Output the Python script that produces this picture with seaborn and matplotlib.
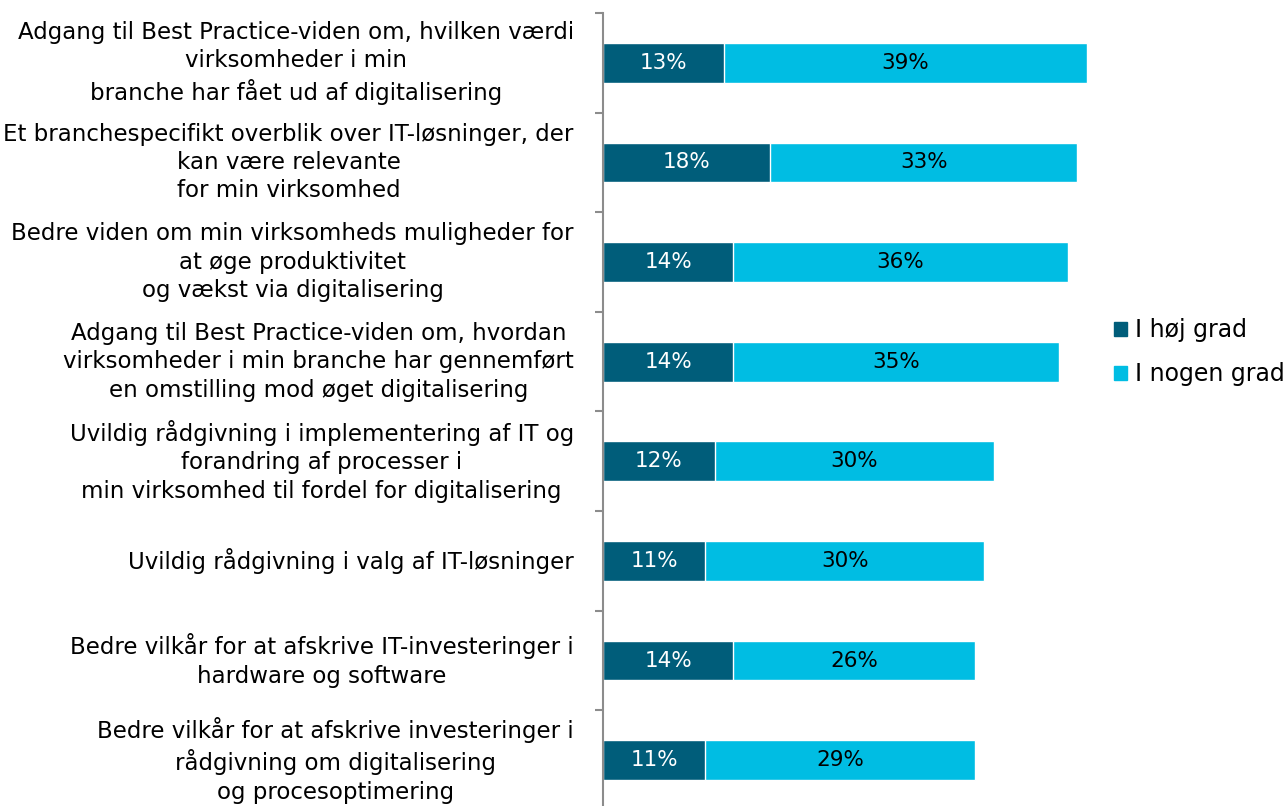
import numpy as np
import pandas as pd
import matplotlib.pyplot as plt
import seaborn as sns

# data
kategorier = [
    "Adgang til Best Practice-viden om, hvilken værdi\nvirksomheder i min\nbranche har fået ud af digitalisering",
    "Et branchespecifikt overblik over IT-løsninger, der\nkan være relevante\nfor min virksomhed",
    "Bedre viden om min virksomheds muligheder for\nat øge produktivitet\nog vækst via digitalisering",
    "Adgang til Best Practice-viden om, hvordan\nvirksomheder i min branche har gennemført\nen omstilling mod øget digitalisering",
    "Uvildig rådgivning i implementering af IT og\nforandring af processer i\nmin virksomhed til fordel for digitalisering",
    "Uvildig rådgivning i valg af IT-løsninger",
    "Bedre vilkår for at afskrive IT-investeringer i\nhardware og software",
    "Bedre vilkår for at afskrive investeringer i\nrådgivning om digitalisering\nog procesoptimering",
]
hoej_grad = [13, 18, 14, 14, 12, 11, 14, 11]
nogen_grad = [39, 33, 36, 35, 30, 30, 26, 29]

df = pd.DataFrame({"kategori": kategorier, "hoej": hoej_grad, "nogen": nogen_grad})
df["total"] = df["hoej"] + df["nogen"]

moerk = "#005D7A"
lys = "#00BDE3"

sns.set_style("white")
plt.rcParams['font.family'] = ['DejaVu Sans']
plt.rcParams['text.color'] = 'black'
plt.rcParams['ytick.color'] = 'black'

fig = plt.figure(figsize=(12.88, 8.06), dpi=100)
ax = fig.add_axes([603 / 1288, 0, 558 / 1288, 793 / 806])

sns.barplot(data=df, y="kategori", x="total", color=lys, width=0.4, orient="h", ax=ax, saturation=1)
sns.barplot(data=df, y="kategori", x="hoej", color=moerk, width=0.4, orient="h", ax=ax, saturation=1)

for i, (h, n) in enumerate(zip(hoej_grad, nogen_grad)):
    ax.text(h / 2, i, f"{h}%", ha="center", va="center", color="white", fontsize=15.5)
    ax.text(h + n / 2, i, f"{n}%", ha="center", va="center", color="black", fontsize=15.5)

ax.set_xlim(0, 60)
ax.set_ylim(7.46, -0.5)
ax.set_xlabel("")
ax.set_ylabel("")
ax.set_xticks([])
for s in ["top", "right", "bottom"]:
    ax.spines[s].set_visible(False)
ax.spines["left"].set_color("#8c8c8c")
ax.spines["left"].set_linewidth(1.5)

ax.set_yticks(np.arange(len(kategorier)) - 0.5, minor=True)
ax.tick_params(axis="y", which="minor", left=True, length=6, width=1.5, color="#8c8c8c", direction="out")
ax.tick_params(axis="y", which="major", left=False, length=0, pad=21, labelsize=16.5, labelcolor="black")
for lbl in ax.get_yticklabels():
    lbl.set_multialignment("center")
    lbl.set_linespacing(1.3)
    lbl.set_verticalalignment("center")

handles = [plt.Rectangle((0, 0), 1, 1, color=moerk), plt.Rectangle((0, 0), 1, 1, color=lys)]
fig.legend(handles, ["I høj grad", "I nogen grad"], loc="center left",
           bbox_to_anchor=(1114 / 1288, 1 - 352 / 806), frameon=False, fontsize=17,
           handlelength=0.55, handleheight=0.55, handletextpad=0.35, labelspacing=0.85,
           borderpad=0, borderaxespad=0)

fig.savefig("out.png", dpi=100)
